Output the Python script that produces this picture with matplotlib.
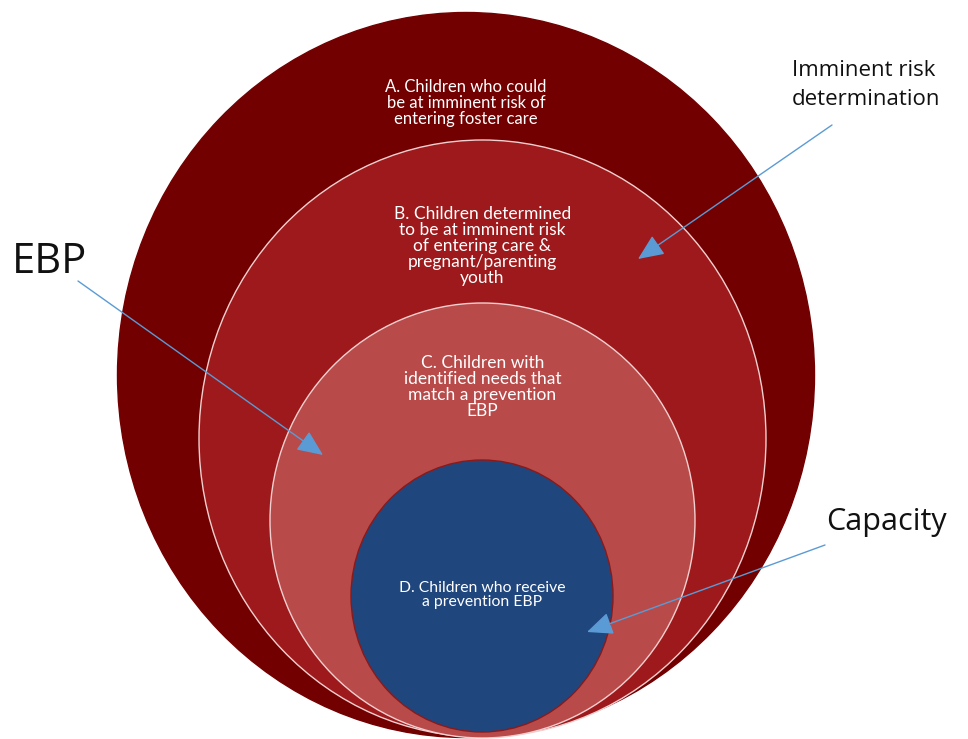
import matplotlib.pyplot as plt
from matplotlib.patches import Ellipse

# nested circles, outer -> inner (pixel coordinates of the picture)
labels = [
    "A. Children who could\nbe at imminent risk of\nentering foster care",
    "B. Children determined\nto be at imminent risk\nof entering care &\npregnant/parenting\nyouth",
    "C. Children with\nidentified needs that\nmatch a prevention\nEBP",
    "D. Children who receive\na prevention EBP",
]
centers = [(466, 375), (482.5, 438.5), (482.5, 520.5), (482, 596)]
widths = [697, 567, 425, 262]
heights = [725, 597, 435, 272]
fills = ["#720000", "#9E191B", "#B94A4A", "#20467E"]
edges = ["#720000", "#F2D0D0", "#F2D0D0", "#8A1A1A"]
label_y = [103, 246, 387, 595]
label_size = [12, 12.5, 12.5, 11.3]

callouts = ["EBP", "Imminent risk\ndetermination", "Capacity"]
callout_xy = [(12, 262), (792, 85), (826, 522)]
callout_size = [30, 16, 22]
arrow_from = [(78, 281), (832, 125), (825, 545)]
arrow_to = [(323, 455), (638, 259), (587, 632)]

fig = plt.figure(figsize=(9.68, 7.39), dpi=100)
ax = fig.add_axes([0, 0, 1, 1])
ax.set_xlim(0, 968)
ax.set_ylim(739, 0)
ax.axis("off")

for i in range(len(labels)):
    ax.add_patch(Ellipse(centers[i], widths[i], heights[i], facecolor=fills[i],
                         edgecolor=edges[i], lw=1.0))
    ax.text(centers[i][0], label_y[i], labels[i], ha="center", va="center",
            color="white", fontsize=label_size[i], family="Lato", linespacing=0.99)

for i in range(len(callouts)):
    ax.text(callout_xy[i][0], callout_xy[i][1], callouts[i], ha="left", va="center",
            fontsize=callout_size[i], family="Open Sans", color="#111111",
            linespacing=1.45)
    ax.annotate("", xy=arrow_to[i], xytext=arrow_from[i],
                arrowprops=dict(arrowstyle="-|>,head_length=0.8,head_width=0.35",
                                color="#5B9BD5", lw=1.0, mutation_scale=20,
                                shrinkA=0, shrinkB=0))

plt.savefig("out.png", dpi=100)
